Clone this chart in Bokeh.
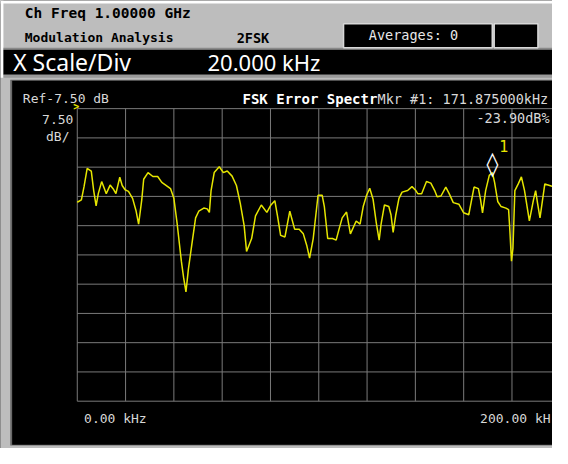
from bokeh.plotting import figure
from bokeh.models import Range1d, Label, BoxAnnotation
from bokeh.core.properties import value
from bokeh.embed import file_html
from bokeh.resources import INLINE

X_START_KHZ = 0.0
X_STOP_KHZ = 200.0
X_DIV_KHZ = 20.0
REF_LEVEL_DB = -7.5
DB_PER_DIV = 7.5
N_DIV_Y = 10
MKR_FREQ_KHZ = 171.875
MKR_LEVEL_DB = -23.90

FREQ_KHZ = [
    0.0, 1.7, 2.8, 4.1, 5.8, 6.8, 7.8, 8.7, 10.1, 11.2,
    12.0, 13.6, 14.9, 16.0, 17.6, 18.6, 19.8, 21.2, 22.9, 24.3,
    25.4, 26.7, 27.5, 29.3, 31.3, 33.3, 35.0, 36.6, 38.6, 40.0,
    41.3, 43.1, 44.0, 45.0, 46.0, 47.4, 49.0, 50.3, 52.4, 53.8,
    54.7, 55.4, 56.7, 58.8, 60.5, 62.1, 64.1, 65.9, 67.5, 69.1,
    70.1, 72.2, 73.8, 76.2, 78.5, 80.2, 81.8, 82.9, 84.2, 86.0,
    88.0, 90.0, 91.9, 93.6, 95.0, 96.2, 97.7, 99.7, 101.4, 102.3,
    103.7, 105.7, 107.2, 108.4, 109.7, 111.5, 113.1, 115.5, 117.1, 118.4,
    119.8, 121.1, 122.5, 123.8, 125.0, 125.8, 127.2, 129.0, 129.9, 130.8,
    131.9, 133.2, 134.5, 136.8, 138.6, 140.2, 141.0, 142.6, 144.6, 146.4,
    148.0, 149.0, 150.6, 152.6, 154.0, 155.7, 158.0, 160.0, 162.1, 164.3,
    166.1, 167.0, 167.8, 169.1, 170.6, 171.9, 172.8, 174.1, 175.5, 177.5,
    178.6, 179.1, 179.8, 180.4, 181.2, 182.6, 183.9, 185.2, 187.2, 188.9,
    189.8, 190.6, 191.6, 193.6, 195.6, 197.0,
]
LEVEL_DB = [
    -31.5, -30.9, -27.5, -22.8, -23.5, -28.5, -32.4, -29.3, -26.2, -28.0,
    -29.3, -27.1, -28.1, -29.3, -25.1, -27.2, -28.3, -28.7, -30.5, -33.6,
    -37.1, -30.9, -25.6, -23.9, -24.9, -24.9, -26.4, -27.1, -28.0, -30.5,
    -36.7, -46.6, -50.7, -54.5, -48.7, -42.5, -35.5, -33.8, -33.0, -33.2,
    -34.1, -28.5, -23.9, -22.4, -23.9, -23.5, -24.8, -27.2, -31.8, -37.5,
    -44.1, -40.8, -35.0, -32.2, -34.1, -32.2, -31.1, -35.0, -40.0, -40.4,
    -33.8, -38.4, -38.4, -39.6, -42.5, -45.8, -40.8, -29.7, -29.7, -32.6,
    -40.8, -40.8, -41.2, -38.4, -35.5, -34.0, -39.6, -36.3, -37.1, -32.6,
    -29.7, -27.9, -30.8, -36.7, -41.2, -37.1, -32.2, -32.6, -34.7, -39.2,
    -34.7, -30.5, -28.9, -28.5, -27.5, -28.5, -29.3, -29.3, -26.2, -26.6,
    -28.5, -30.1, -29.9, -27.6, -29.3, -31.6, -32.0, -34.2, -34.7, -27.6,
    -28.0, -30.9, -34.2, -28.5, -24.6, -23.9, -26.4, -31.3, -32.6, -33.0,
    -33.4, -38.4, -46.6, -43.3, -28.5, -26.8, -25.0, -28.5, -36.3, -30.9,
    -28.5, -31.8, -35.5, -26.8, -27.2, -27.5,
]
assert len(FREQ_KHZ) == len(LEVEL_DB)

X_TICKS = [X_START_KHZ + i * X_DIV_KHZ for i in range(11)]
Y_TICKS = [REF_LEVEL_DB - i * DB_PER_DIV for i in range(N_DIV_Y + 1)]

# ---------------- layout (reference screen pixels) ----------------
W, H = 552, 448
REF_W, REF_H = 568, 464
GRID_L, GRID_R, GRID_T, GRID_B = 79.0, 576.0, 112.0, 415.0

kpp = (X_STOP_KHZ - X_START_KHZ) / (GRID_R - GRID_L)
dpp = (N_DIV_Y * DB_PER_DIV) / (GRID_B - GRID_T)

p = figure(width=W, height=H, output_backend="svg", toolbar_location=None,
           x_range=Range1d(0, REF_W), y_range=Range1d(REF_H, 0),
           x_axis_location=None, y_axis_location=None, min_border=0)
p.grid.visible = False
p.outline_line_color = None
p.background_fill_color = "#000000"
p.border_fill_color = "#000000"

p.extra_x_ranges = {"khz": Range1d(X_START_KHZ - GRID_L * kpp,
                                   X_START_KHZ + (REF_W - GRID_L) * kpp)}
p.extra_y_ranges = {"db": Range1d(REF_LEVEL_DB - (REF_H - GRID_T) * dpp,
                                  REF_LEVEL_DB + GRID_T * dpp)}

GRAY = "#bdbdbd"
def box(l, r, t, b, color, line=None, lw=0):
    p.add_layout(BoxAnnotation(left=l, right=r, top=t, bottom=b, fill_color=color,
                               fill_alpha=1.0, line_color=line, line_width=lw,
                               line_alpha=1.0 if line else 0, level="underlay"))

# page background pieces
box(0, REF_W, 0, REF_H, GRAY)
box(0, REF_W, 0, 3, "#ffffff")
box(0, 3, 0, 80, "#ffffff")
box(3, REF_W, 49, 51, "#8a8a8a")
box(3, REF_W, 51, 77, "#000000")
box(3, REF_W, 77, 80, "#9a9a9a")
box(10, REF_W, 82, 461, "#6a6a6a")
box(12, REF_W, 83, 460, "#000000")
box(353, 506, 24, 49, "#000000", "#d8d8d8", 1.5)
box(508, 553, 24, 49, "#000000", "#d8d8d8", 1.5)

# graticule
GRID_C = "#7a7a7a"
p.segment(x0=X_TICKS, x1=X_TICKS, y0=[Y_TICKS[0]] * len(X_TICKS), y1=[Y_TICKS[-1]] * len(X_TICKS),
          line_color=GRID_C, line_width=1, x_range_name="khz", y_range_name="db")
p.segment(x0=[X_START_KHZ] * len(Y_TICKS), x1=[X_STOP_KHZ] * len(Y_TICKS), y0=Y_TICKS, y1=Y_TICKS,
          line_color=GRID_C, line_width=1, x_range_name="khz", y_range_name="db")

# trace
p.line(FREQ_KHZ, LEVEL_DB, line_color="#e6e600", line_width=1.5,
       x_range_name="khz", y_range_name="db")

# marker
p.text(x=[MKR_FREQ_KHZ], y=[MKR_LEVEL_DB], text=["◊"], text_color="#ffffff",
       text_font=value("DejaVu Sans"), text_font_style="bold", text_font_size="24px",
       text_align="center", text_baseline="middle", y_offset=-9,
       x_range_name="khz", y_range_name="db")
p.text(x=[MKR_FREQ_KHZ], y=[MKR_LEVEL_DB], text=["1"], text_color="#e6e600",
       text_font=value("DejaVu Sans Mono"), text_font_size="15px",
       text_align="left", text_baseline="middle", x_offset=7, y_offset=-27,
       x_range_name="khz", y_range_name="db")

MONO = "DejaVu Sans Mono"
def lab(x, y, t, size, color="#d8d8d8", font=MONO, style="normal", align="left"):
    p.add_layout(Label(x=x, y=y, text=t, text_font=font, text_font_size=size,
                       text_color=color, text_font_style=style, text_align=align,
                       text_baseline="middle"))

# header
lab(25, 13, "Ch Freq 1.00000 GHz", "14.5px", "#000000", style="bold")
lab(25, 38, "Modulation Analysis", "13px", "#000000", style="bold")
lab(243, 39, "2FSK", "13.5px", "#000000", style="bold")
lab(379, 36, "Averages: 0", "13.5px", "#e8e8e8")
lab(13, 64, "X Scale/Div", "23px", "#ffffff", font="Noto Sans")
lab(213, 64, "20.000 kHz", "22px", "#ffffff", font="Noto Sans")

# panel annotations
lab(23, 102, "Ref-7.50 dB", "13px")
lab(75, 123, "7.50", "13px", align="right")
lab(71, 141, "dB/", "13px", align="right")
lab(78, 110, ">", "10px", "#e6e600", style="bold", align="center")
lab(249, 102, "FSK Error Spectr", "14px", "#ffffff", style="bold")
lab(388, 102, "Mkr #1: 171.875000kHz", "13.5px")
lab(565, 122, "-23.90dB%", "13.5px", align="right")
lab(86, 433, "0.00 kHz", "13px")
lab(566, 433, "200.00 kH", "13px", align="right")

open("out.html", "w").write(file_html(p, INLINE))
